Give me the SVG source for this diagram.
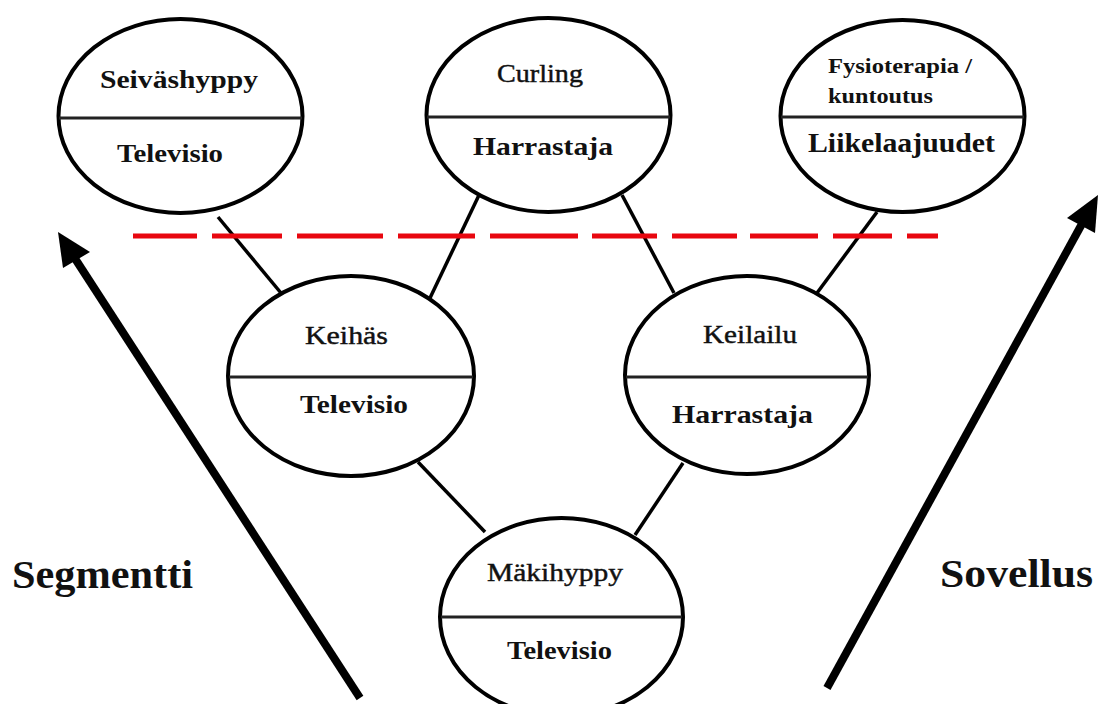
<svg xmlns="http://www.w3.org/2000/svg" width="1101" height="704" viewBox="0 0 1101 704">
<style>
.node ellipse{fill:#fff;stroke:#000;stroke-width:4}
.node line{stroke:#222;stroke-width:3}
.t{font-family:"Liberation Serif","Times New Roman",serif;fill:#111;text-anchor:start}
.r{font-weight:normal;stroke:#111;stroke-width:0.45}
.b{font-weight:bold}
.conn line{stroke:#000;stroke-width:3.5}
.arrow line{stroke:#000;stroke-width:8}
.arrow polygon{fill:#000}
</style>
<rect width="1101" height="704" fill="#fff"/>
<g id="connectors" class="conn">
<line x1="218" y1="217" x2="281" y2="293"/>
<line x1="480" y1="193" x2="430" y2="298"/>
<line x1="622" y1="195" x2="674" y2="293"/>
<line x1="877" y1="212" x2="817" y2="293"/>
<line x1="418" y1="462" x2="485" y2="532"/>
<line x1="683" y1="463" x2="635" y2="535"/>
</g>
<path id="dashed-divider" d="M133 236H197M212 236H282M297 236H383M398 236H475M490 236H578M592 236H657M672 236H737M750 236H818M833 236H892M907 236H938" stroke="#e8070f" stroke-width="5" fill="none"/>
<g id="node-seivashyppy" class="node">
<ellipse cx="180.5" cy="116" rx="122" ry="97"/>
<line x1="59" y1="118" x2="302" y2="118"/>
<text class="t b" x="100" y="88" font-size="26" textLength="158" lengthAdjust="spacingAndGlyphs">Seiväshyppy</text>
<text class="t b" x="117" y="162" font-size="26" textLength="106" lengthAdjust="spacingAndGlyphs">Televisio</text>
</g>
<g id="node-curling" class="node">
<ellipse cx="548.5" cy="115" rx="122" ry="97"/>
<line x1="427" y1="117" x2="670" y2="117"/>
<text class="t r" x="497" y="82" font-size="26" textLength="86" lengthAdjust="spacingAndGlyphs">Curling</text>
<text class="t b" x="473" y="155" font-size="26" textLength="140" lengthAdjust="spacingAndGlyphs">Harrastaja</text>
</g>
<g id="node-fysioterapia" class="node">
<ellipse cx="902.5" cy="116" rx="122" ry="96"/>
<line x1="781" y1="117" x2="1024" y2="117"/>
<text class="t b" x="828" y="73" font-size="22" textLength="144" lengthAdjust="spacingAndGlyphs">Fysioterapia /</text>
<text class="t b" x="828" y="103" font-size="22" textLength="105" lengthAdjust="spacingAndGlyphs">kuntoutus</text>
<text class="t b" x="808" y="152" font-size="27" textLength="187" lengthAdjust="spacingAndGlyphs">Liikelaajuudet</text>
</g>
<g id="node-keihas" class="node">
<ellipse cx="351" cy="376" rx="123" ry="100"/>
<line x1="229" y1="377" x2="473" y2="377"/>
<text class="t r" x="305" y="344" font-size="26" textLength="83" lengthAdjust="spacingAndGlyphs">Keihäs</text>
<text class="t b" x="300" y="413" font-size="26" textLength="108" lengthAdjust="spacingAndGlyphs">Televisio</text>
</g>
<g id="node-keilailu" class="node">
<ellipse cx="747" cy="375" rx="122" ry="99"/>
<line x1="626" y1="377" x2="868" y2="377"/>
<text class="t r" x="703" y="343" font-size="26" textLength="94" lengthAdjust="spacingAndGlyphs">Keilailu</text>
<text class="t b" x="672" y="423" font-size="26" textLength="141" lengthAdjust="spacingAndGlyphs">Harrastaja</text>
</g>
<g id="node-makihyppy" class="node">
<ellipse cx="561.5" cy="617" rx="121.5" ry="99"/>
<line x1="441" y1="617" x2="682" y2="617"/>
<text class="t r" x="487" y="581" font-size="26" textLength="136" lengthAdjust="spacingAndGlyphs">Mäkihyppy</text>
<text class="t b" x="507" y="659" font-size="26" textLength="105" lengthAdjust="spacingAndGlyphs">Televisio</text>
</g>
<g id="arrow-segmentti" class="arrow">
<line x1="360" y1="698" x2="74" y2="257"/>
<polygon points="58,232 90,252 63,268"/>
</g>
<g id="arrow-sovellus" class="arrow">
<line x1="827" y1="688" x2="1083" y2="222"/>
<polygon points="1098,195 1095,233 1067,218"/>
</g>
<text id="label-segmentti" class="t b" x="12" y="588" font-size="41" textLength="181" lengthAdjust="spacingAndGlyphs">Segmentti</text>
<text id="label-sovellus" class="t b" x="940" y="587" font-size="41" textLength="153" lengthAdjust="spacingAndGlyphs">Sovellus</text>
</svg>
